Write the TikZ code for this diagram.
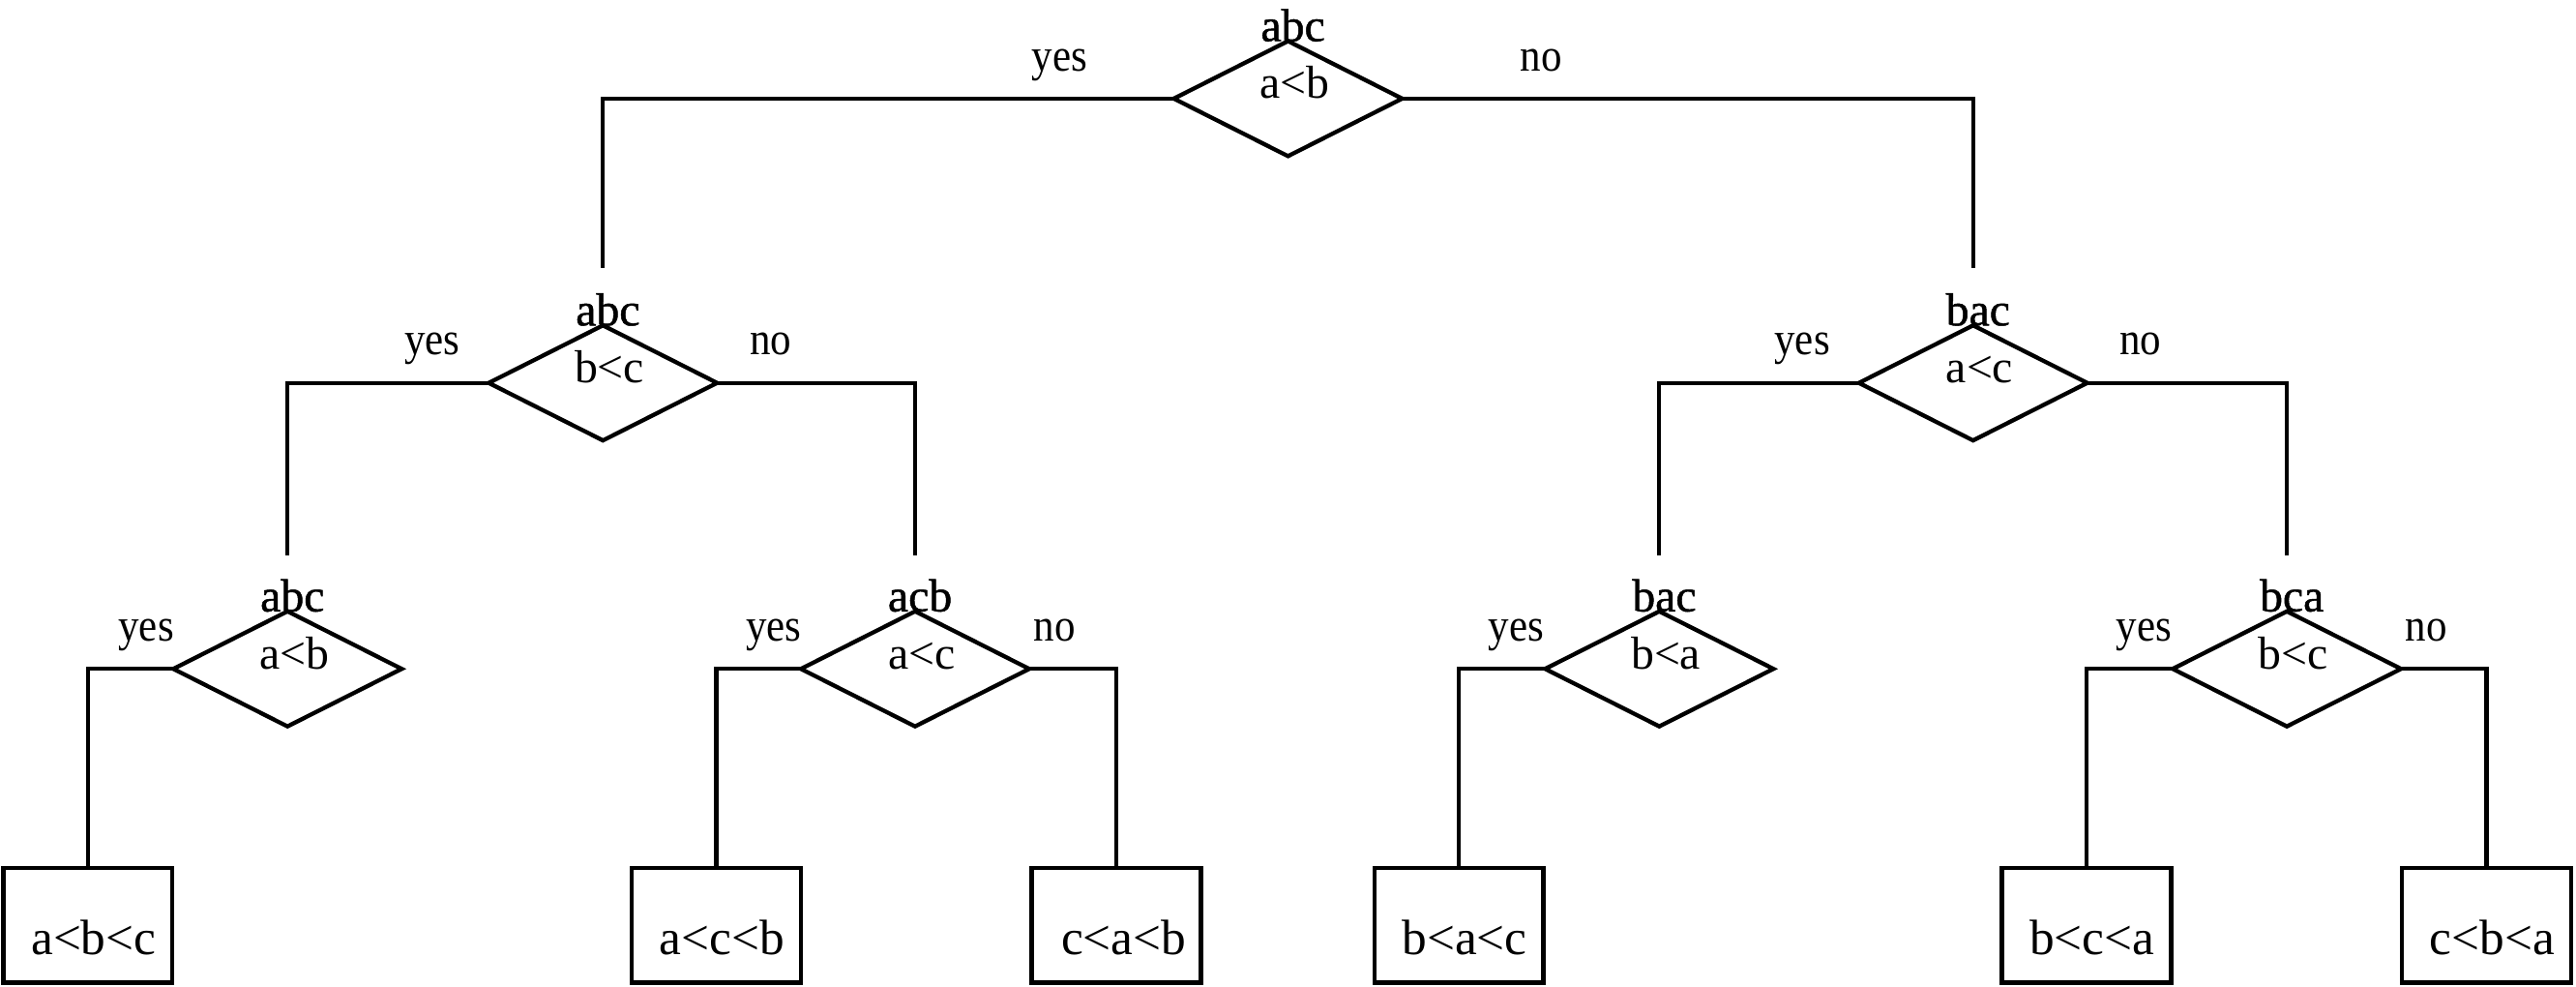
\documentclass[tikz,border=0pt]{standalone}
\usepackage{fontspec}
\setmainfont{Liberation Serif}
\newfontfamily\toplabfont[FakeBold=1]{Liberation Serif}
\newfontfamily\ansfont[FakeStretch=0.9]{Liberation Serif}
\usetikzlibrary{shapes.geometric,calc}
\begin{document}
\begin{tikzpicture}[x=0.25mm,y=-0.25mm,
  line width=1.8pt,
  dia/.style={draw, diamond, minimum width=34.75mm, minimum height=17.5mm, inner sep=0pt, outer sep=0pt},
  leaf/.style={draw, rectangle, minimum width=25.75mm, minimum height=17.5mm, inner sep=0pt, outer sep=0pt},
  qtxt/.style={font=\fontsize{20pt}{22pt}\selectfont, inner sep=0pt, anchor=base},
  ttxt/.style={font=\toplabfont\fontsize{20pt}{22pt}\selectfont, inner sep=0pt, anchor=base},
  ltxt/.style={font=\fontsize{21.5pt}{24pt}\selectfont, inner sep=0pt, anchor=base},
  ans/.style={font=\ansfont\fontsize{20pt}{22pt}\selectfont, inner sep=0pt, anchor=base}
]
\useasboundingbox (0,0) rectangle (1568,600);

% diamonds
\node[dia] (d0) at (784,60) {};
\node[dia] (d1) at (367,233) {};
\node[dia] (d2) at (1201,233) {};
\node[dia] (d3) at (175,407) {};
\node[dia] (d4) at (557,407) {};
\node[dia] (d5) at (1010,407) {};
\node[dia] (d6) at (1392,407) {};

% leaves
\node[leaf] (b1) at (53.5,563) {};
\node[leaf] (b2) at (436,563) {};
\node[leaf] (b3) at (679.5,563) {};
\node[leaf] (b4) at (888,563) {};
\node[leaf] (b5) at (1270,563) {};
\node[leaf] (b6) at (1513.5,563) {};

% leaf texts
\node[ltxt] (l1) at (57,581) {a<b<c};
\node[ltxt] (l2) at (439.5,581) {a<c<b};
\node[ltxt] (l3) at (684,581) {c<a<b};
\node[ltxt] (l4) at (891.5,581) {b<a<c};
\node[ltxt] (l5) at (1273.5,581) {b<c<a};
\node[ltxt] (l6) at (1517,581) {c<b<a};

% top labels
\node[ttxt] (t0) at (787,25) {abc};
\node[ttxt] (t1) at (370,198) {abc};
\node[ttxt] (t2) at (1204,198) {bac};
\node[ttxt] (t3) at (178,372) {abc};
\node[ttxt] (t4) at (560,372) {acb};
\node[ttxt] (t5) at (1013,372) {bac};
\node[ttxt] (t6) at (1395,372) {bca};

% questions
\node[qtxt] (q0) at (788,60) {a<b};
\node[qtxt] (q1) at (371,233) {b<c};
\node[qtxt] (q2) at (1205,233) {a<c};
\node[qtxt] (q3) at (179,407) {a<b};
\node[qtxt] (q4) at (561,407) {a<c};
\node[qtxt] (q5) at (1014,407) {b<a};
\node[qtxt] (q6) at (1396,407) {b<c};

% yes / no
\node[ans] (y0) at (645,43) {yes};
\node[ans] (n0) at (938,43) {no};
\node[ans] (y1) at (263,216) {yes};
\node[ans] (n1) at (469,216) {no};
\node[ans] (y2) at (1097,216) {yes};
\node[ans] (n2) at (1303,216) {no};
\node[ans] (y3) at (89,390) {yes};
\node[ans] (y4) at (471,390) {yes};
\node[ans] (n4) at (642,390) {no};
\node[ans] (y5) at (923,390) {yes};
\node[ans] (y6) at (1305,390) {yes};
\node[ans] (n6) at (1477,390) {no};

% connector ends
\coordinate (e1) at (367,163);
\coordinate (e2) at (1201,163);
\coordinate (e3) at (175,338);
\coordinate (e4) at (557,338);
\coordinate (e5) at (1010,338);
\coordinate (e6) at (1392,338);

\draw (d0.west) -| (e1);
\draw (d0.east) -| (e2);
\draw (d1.west) -| (e3);
\draw (d1.east) -| (e4);
\draw (d2.west) -| (e5);
\draw (d2.east) -| (e6);
\draw (d3.west) -| (b1.north);
\draw (d4.west) -| (b2.north);
\draw (d4.east) -| (b3.north);
\draw (d5.west) -| (b4.north);
\draw (d6.west) -| (b5.north);
\draw (d6.east) -| (b6.north);
\end{tikzpicture}
\end{document}
